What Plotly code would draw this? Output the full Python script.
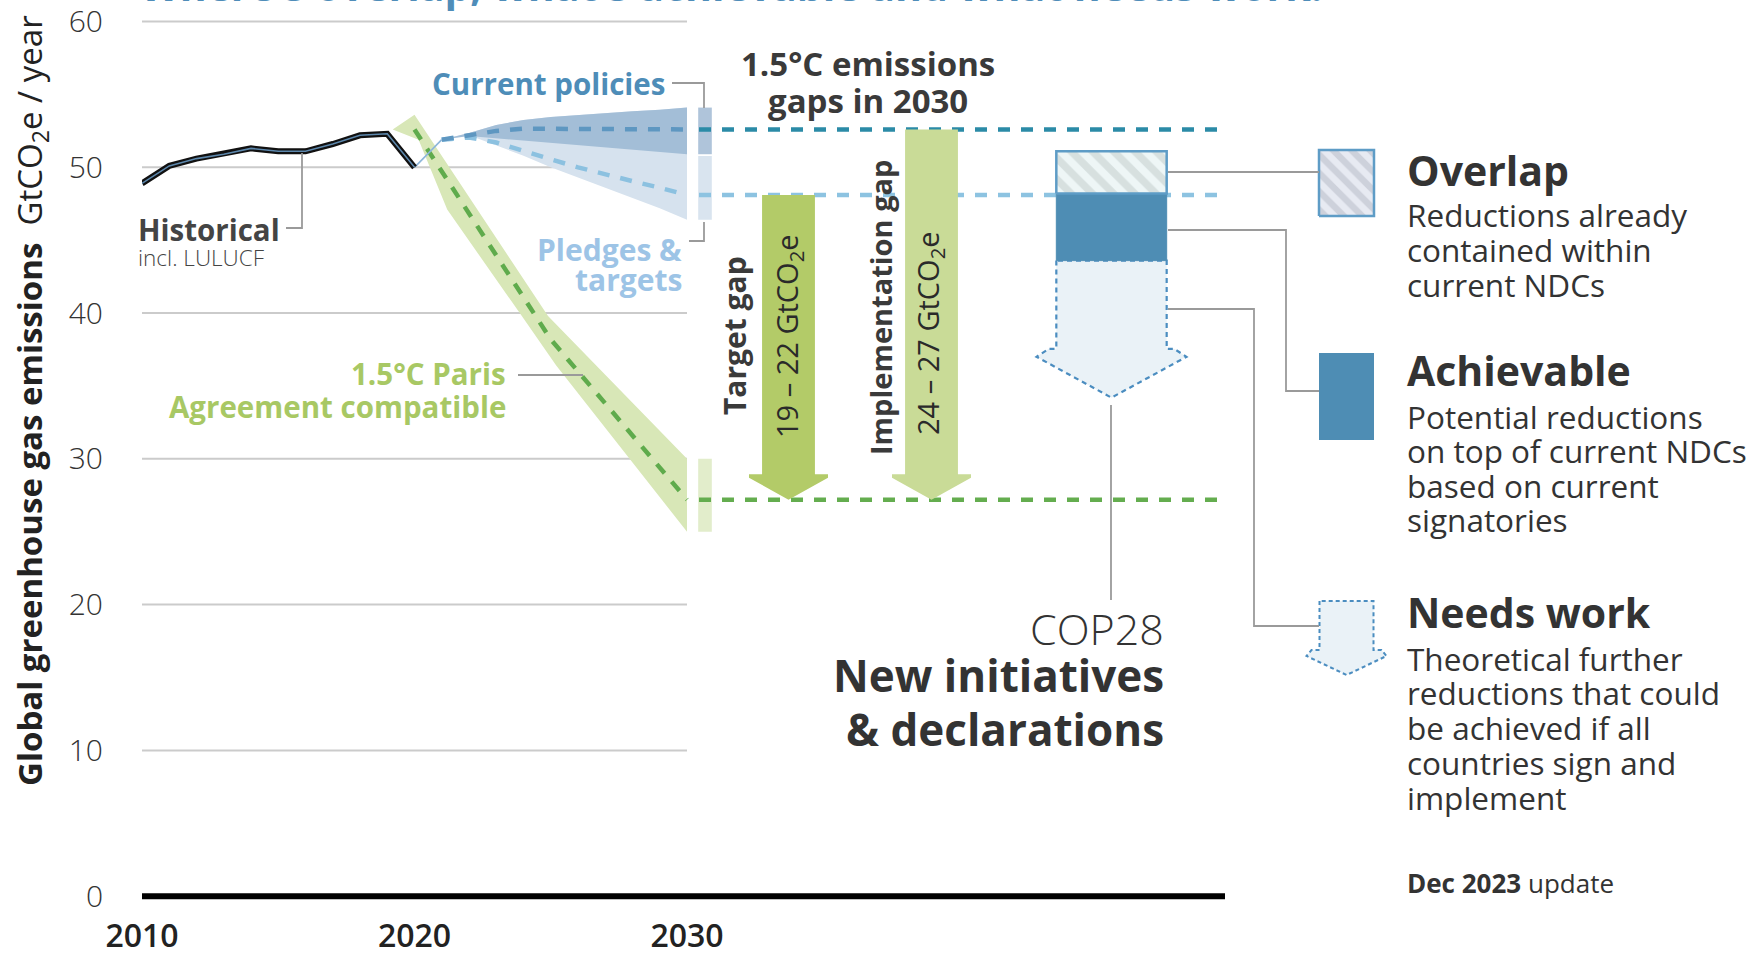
import plotly.graph_objects as go

# ---------------- data ----------------
hist_years = list(range(2010, 2021))
hist_vals = [48.9, 50.1, 50.6, 50.9, 51.3, 51.1, 51.1, 51.6, 52.2, 52.3, 50.0]

proj_years = list(range(2021, 2031))
cp_upper = [51.9, 52.35, 52.9, 53.25, 53.45, 53.6, 53.75, 53.85, 53.95, 54.1]
cp_lower = [51.9, 52.15, 52.0, 51.8, 51.65, 51.5, 51.35, 51.2, 51.05, 50.9]
cp_median = [51.9, 52.2, 52.5, 52.65, 52.65, 52.6, 52.6, 52.6, 52.6, 52.6]
pl_lower = [51.9, 52.2, 51.5, 50.8, 50.0, 49.3, 48.6, 47.9, 47.2, 46.4]
pl_median = [51.9, 52.05, 51.7, 51.1, 50.55, 50.0, 49.5, 49.05, 48.6, 48.1]

paris_years = [2020, 2025, 2030]
paris_median = [52.6, 38.2, 27.2]
paris_band_years = [2019.2, 2020.0, 2024.9, 2030.0, 2030.0, 2025.2, 2023.9, 2021.2, 2020.15, 2019.2]
paris_band_vals = [52.6, 53.6, 39.8, 30.0, 25.0, 36.4, 39.9, 47.1, 51.9, 52.6]
paris_range_2030 = [25.0, 30.0]

cop_overlap = [48.2, 51.1]
cop_achievable = [43.6, 48.2]
cop_needs_work = [34.2, 43.6]      # arrow tip, top
needs_work_neck = 37.55

gap_labels = ["19 – 22 GtCO<sub>2</sub>e", "24 – 27 GtCO<sub>2</sub>e"]
x_tick_vals = [2010, 2020, 2030]
y_tick_vals = [0, 10, 20, 30, 40, 50, 60]

# ---------------- layout geometry ----------------
W, H = 1757, 953
L, R, T, B = 142, 7, 7, 35
PW, PH = W - L - R, H - T - B
PX_PER_YEAR = 27.25
X0 = 2010
X1 = X0 + PW / PX_PER_YEAR
Y0, Y1 = -1.5, 61.0
PX_PER_UNIT = PH / (Y1 - Y0)
FONT = "Open Sans"
DARK = "#333333"


def px2x(px):
    return X0 + (px - L) / PX_PER_YEAR


def py2y(py):
    return Y1 - (py - T) / PX_PER_UNIT


def paper_x(px):
    return (px - L) / PW


def paper_y(py):
    return (H - B - py) / PH


def rect(xc, w, y0, y1):
    return ([xc - w / 2, xc + w / 2, xc + w / 2, xc - w / 2, xc - w / 2],
            [y0, y0, y1, y1, y0])


def down_arrow(xc, top, tip, body_hw, head_hw, neck, shoulder_dx, shoulder_dy):
    xs = [xc - body_hw, xc - body_hw, xc - head_hw + shoulder_dx, xc - head_hw, xc,
          xc + head_hw, xc + head_hw - shoulder_dx, xc + body_hw, xc + body_hw, xc - body_hw]
    ys = [top, neck, neck, neck - shoulder_dy, tip,
          neck - shoulder_dy, neck, neck, top, top]
    return xs, ys


fig = go.Figure()


def poly(xs, ys, fill, line_color=None, line_width=0, dash=None, pattern=None):
    kw = dict(x=xs, y=ys, mode="lines", fill="toself", fillcolor=fill,
              line=dict(color=line_color or fill, width=line_width, dash=dash),
              hoverinfo="skip", showlegend=False)
    if pattern:
        kw["fillpattern"] = pattern
    fig.add_trace(go.Scatter(**kw))


def line(xs, ys, color, width, dash=None):
    fig.add_trace(go.Scatter(x=xs, y=ys, mode="lines",
                             line=dict(color=color, width=width, dash=dash),
                             hoverinfo="skip", showlegend=False))


# 1.5C band and median
poly(paris_band_years, paris_band_vals, "#D8E7B7")
line(paris_years, paris_median, "#5FAB4C", 4.5, "12px,11px")

# current policies / pledges bands
poly(proj_years + proj_years[::-1], cp_upper + pl_lower[::-1], "#D6E2EE")
poly(proj_years + proj_years[::-1], cp_upper + cp_lower[::-1], "#A3BED7")
line(proj_years, pl_median, "#8CC1E0", 4.5, "12px,11px")
line(proj_years, cp_median, "#5E97C1", 4.5, "12px,11px")

# link from history to projections
line([hist_years[-1], proj_years[0]], [hist_vals[-1], cp_median[0]], "#8DB6DA", 1.6)

# historical
line(hist_years, hist_vals, "#111111", 6)
line(hist_years, hist_vals, "#5C87AC", 1.6)

# 2030 ranges
bar_x, bar_w = px2x(705), 0.5
poly(*rect(bar_x, bar_w, cp_lower[-1], cp_upper[-1]), "#AFC4DA")
poly(*rect(bar_x, bar_w, pl_lower[-1], cp_lower[-1] - 0.12), "#D9E4EF")
poly(*rect(bar_x, bar_w, paris_range_2030[0], paris_range_2030[1]), "#E2EDCB")

# 2030 gap lines
x_line_end = px2x(1225)
line([px2x(699), x_line_end], [cp_median[-1]] * 2, "#2B8BA7", 4.5, "12px,11px")
line([px2x(699), x_line_end], [pl_median[-1]] * 2, "#8DC3E1", 4.5, "12px,11px")
line([px2x(699), x_line_end], [paris_median[-1]] * 2, "#64AD4F", 4.5, "12px,11px")

# gap arrows
for xc, top, col in [(px2x(788.5), pl_median[-1], "#B3CB68"),
                     (px2x(931.5), cp_median[-1], "#C9DB97")]:
    xs, ys = down_arrow(xc, top, paris_median[-1], 0.97, 1.45, paris_median[-1] + 1.75, 0.0, 0.25)
    poly(xs, ys, col)

# COP28 stack
stack_x, stack_w = px2x(1111.5), 4.05
xs, ys = down_arrow(stack_x, cop_needs_work[1], cop_needs_work[0], stack_w / 2, 2.75,
                    needs_work_neck, 0.45, 0.55)
poly(xs, ys, "#EAF2F7", "#4B8DC0", 2.2, "5px,4px")
poly(*rect(stack_x, stack_w, cop_achievable[0], cop_achievable[1]), "#4E8DB4", "#4E8DB4", 1)
poly(*rect(stack_x, stack_w, cop_overlap[0], cop_overlap[1]), "#EEF6F6", "#5E9CC6", 2.5,
     pattern=dict(shape="\\", fgcolor="#C0CAC8", bgcolor="#EEF6F6", size=15, solidity=0.5))

# legend icons
poly(*rect(px2x(1346.5), 55 / PX_PER_YEAR, py2y(216), py2y(150)), "#E7EAF2", "#5E9CC6", 2.5,
     pattern=dict(shape="\\", fgcolor="#B3B7C4", bgcolor="#E7EAF2", size=13, solidity=0.5))
poly(*rect(px2x(1346.5), 55 / PX_PER_YEAR, py2y(440), py2y(353)), "#4E8DB4")
xs, ys = down_arrow(px2x(1346.5), py2y(601), py2y(675), 27 / PX_PER_YEAR, 40 / PX_PER_YEAR,
                    py2y(650), 5 / PX_PER_YEAR, 6 / PX_PER_UNIT)
poly(xs, ys, "#EAF2F7", "#4B8DC0", 2, "4px,3px")

# ---------------- shapes: grid, zero line, connectors ----------------
shapes = []
for v in y_tick_vals[1:]:
    shapes.append(dict(type="line", xref="x", yref="y", x0=2010, x1=2030, y0=v, y1=v,
                       line=dict(color="#CBCBCB", width=2), layer="below"))
shapes.append(dict(type="line", xref="x", yref="y", x0=2010, x1=x_line_end, y0=0, y1=0,
                   line=dict(color="#000000", width=6), layer="above"))

connectors = [
    [(672, 83), (704, 83), (704, 108)],
    [(689, 241), (704, 241), (704, 222)],
    [(286, 228), (302, 228), (302, 153)],
    [(518, 375), (583, 375)],
    [(1168, 172), (1319, 172)],
    [(1168, 230), (1286, 230), (1286, 391), (1319, 391)],
    [(1168, 309), (1254, 309), (1254, 626), (1319, 626)],
    [(1111, 405), (1111, 600)],
]
for pts in connectors:
    path = "M " + " L ".join(f"{paper_x(x):.5f},{paper_y(y):.5f}" for x, y in pts)
    shapes.append(dict(type="path", xref="paper", yref="paper", path=path,
                       line=dict(color="#9A9A9A", width=1.8)))

# ---------------- annotations ----------------
anns = []


def ann(text, px, py, size, color=DARK, xanchor="left", angle=0, weight=None, yanchor="middle"):
    f = dict(family=FONT, size=size, color=color)
    if weight:
        f["weight"] = weight
    anns.append(dict(text=text, x=paper_x(px), y=paper_y(py), xref="paper", yref="paper",
                     xanchor=xanchor, yanchor=yanchor, showarrow=False, textangle=angle,
                     font=f))


# cut-off title at top
ann("<b>Where's overlap, what's achievable and what needs work.</b>", 138, 15, 41,
    "#4F8DB9", yanchor="bottom")

# y axis title
ann("<b>Global greenhouse gas emissions</b>  GtCO<sub>2</sub>e / year", 31, 401, 33,
    "#222222", xanchor="center", angle=-90)

ann("<b>Current policies</b>", 667, 83, 29.5, "#4E8DB8", xanchor="right")
ann("<b>Pledges &</b>", 684, 249, 30, "#9DC4E6", xanchor="right")
ann("<b>targets</b>", 684, 279, 30, "#9DC4E6", xanchor="right")
ann("<b>Historical</b>", 136, 230, 29.5, "#444444")
ann("incl. LULUCF", 136, 257, 22.5, "#444444", weight=300)
ann("<b>1.5°C Paris</b>", 508, 373, 29.5, "#A8C864", xanchor="right")
ann("<b>Agreement compatible</b>", 508, 407, 29.5, "#A8C864", xanchor="right")

ann("<b>1.5°C emissions</b>", 868, 64, 33, "#3A3A3A", xanchor="center")
ann("<b>gaps in 2030</b>", 868, 101, 33, "#3A3A3A", xanchor="center")

ann("<b>Target gap</b>", 734, 336, 30, "#3A3A3A", xanchor="center", angle=-90)
ann(gap_labels[0], 788, 336, 29, "#2A2A2A", xanchor="center", angle=-90)
ann("<b>Implementation gap</b>", 880, 308, 29, "#3A3A3A", xanchor="center", angle=-90)
ann(gap_labels[1], 930, 333, 29, "#2A2A2A", xanchor="center", angle=-90)

ann("COP28", 1166, 628, 43, "#333333", xanchor="right", weight=300)
ann("<b>New initiatives</b>", 1166, 675, 44, "#333333", xanchor="right")
ann("<b>& declarations</b>", 1166, 729, 44, "#333333", xanchor="right")

ann("<b>Overlap</b>", 1405, 170, 41)
for i, t in enumerate(["Reductions already", "contained within", "current NDCs"]):
    ann(t, 1405, 215 + 34.5 * i, 31.5)
ann("<b>Achievable</b>", 1405, 370, 41)
for i, t in enumerate(["Potential reductions", "on top of current NDCs", "based on current",
                       "signatories"]):
    ann(t, 1405, 416 + 34.5 * i, 31.5)
ann("<b>Needs work</b>", 1405, 612, 41)
for i, t in enumerate(["Theoretical further", "reductions that could", "be achieved if all",
                       "countries sign and", "implement"]):
    ann(t, 1405, 658 + 34.8 * i, 31.5)
ann("<b>Dec 2023</b> update", 1405, 883, 26)

fig.update_layout(
    width=W, height=H,
    margin=dict(l=L, r=R, t=T, b=B, pad=0, autoexpand=False),
    paper_bgcolor="white", plot_bgcolor="white",
    showlegend=False,
    shapes=shapes, annotations=anns,
    font=dict(family=FONT, color=DARK),
    xaxis=dict(range=[X0, X1], showgrid=False, zeroline=False, showline=False,
               tickvals=x_tick_vals, ticktext=[str(v) for v in x_tick_vals],
               tickfont=dict(family=FONT, size=32, color="#222222", weight=600),
               ticks="", ticklabelstandoff=-4, fixedrange=True, automargin=False),
    yaxis=dict(range=[Y0, Y1], showgrid=False, zeroline=False, showline=False,
               tickvals=y_tick_vals, ticktext=[str(v) for v in y_tick_vals],
               tickfont=dict(family=FONT, size=30, color="#333333", weight=300),
               ticks="", ticklabelstandoff=38, fixedrange=True, automargin=False),
)

fig.write_html("out.html", config={"displayModeBar": False},
               post_script="document.body.style.margin='0px';"
                           "document.body.style.overflow='hidden';")
